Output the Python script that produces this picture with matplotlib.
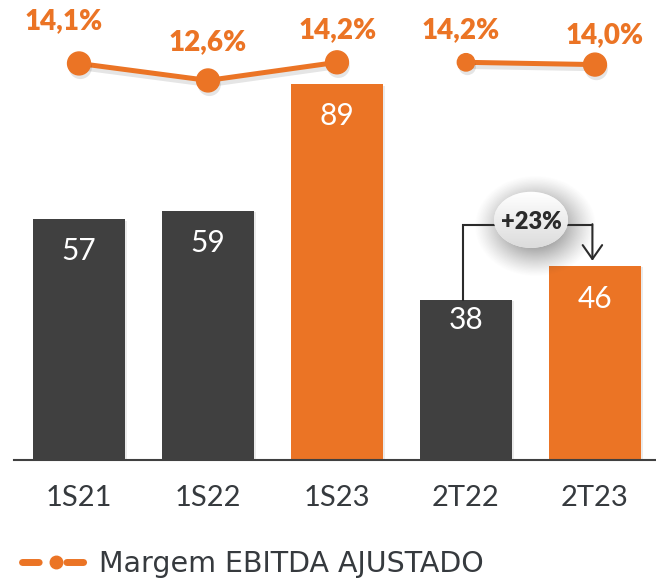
import matplotlib
matplotlib.use("Agg")
import matplotlib.pyplot as plt
import matplotlib.patheffects as pe
from matplotlib.patches import Ellipse
from matplotlib.lines import Line2D
import numpy as np

# Data
categories = ["1S21", "1S22", "1S23", "2T22", "2T23"]
ebitda = [57, 59, 89, 38, 46]
margin = [14.1, 12.6, 14.2, 14.2, 14.0]
margin_labels = ["14,1%", "12,6%", "14,2%", "14,2%", "14,0%"]
growth_label = "+23%"

DARK = "#404040"
ORANGE = "#EB7425"
TEXT = "#363a3e"
bar_colors = [DARK, DARK, ORANGE, DARK, ORANGE]

plt.rcParams["font.family"] = ["Lato", "DejaVu Sans"]

fig = plt.figure(figsize=(6.56, 5.78), dpi=100)
ax = fig.add_axes([14 / 656, 118 / 578, 642 / 656, 460 / 578])
x = np.arange(len(categories))

bars = ax.bar(x, ebitda, width=0.713, color=bar_colors, zorder=2)
for b in bars:
    b.set_path_effects([pe.SimplePatchShadow(offset=(1.5, -1), shadow_rgbFace="black", alpha=0.08),
                        pe.Normal()])

# value labels inside bars
label_drop = [-23, -23, -23, -14.5, -23.5]
for xi, v, d in zip(x, ebitda, label_drop):
    ax.annotate(str(v), (xi, v), xytext=(0, d), textcoords="offset points",
                ha="center", va="center", color="white", fontsize=21.5,
                fontweight="normal", zorder=4)

ax.set_xlim(-0.504, 4.473)
ax.set_ylim(0, 109)
ax.set_xticks(x)
ax.set_xticklabels(categories, fontsize=21, fontweight="normal", color=TEXT)
ax.tick_params(axis="x", length=0, pad=18)
ax.set_yticks([])
for s in ["top", "right", "left"]:
    ax.spines[s].set_visible(False)
ax.spines["bottom"].set_color(DARK)
ax.spines["bottom"].set_linewidth(1.5)

# margin line on a twin axis
ax2 = ax.twinx()
ax2.set_ylim(-20.9, 19.7)
ax2.axis("off")
shadow = [pe.SimpleLineShadow(offset=(1, -3), shadow_color="black", alpha=0.1), pe.Normal()]
for grp in ([0, 1, 2], [3, 4]):
    ax2.plot(x[grp], [margin[i] for i in grp], color=ORANGE, lw=3.6,
             solid_capstyle="round", zorder=3, path_effects=shadow, clip_on=False)
msizes = [16.5, 16.5, 16.5, 12.5, 16.5]
ax2.scatter(x, margin, s=[m ** 2 for m in msizes], color=ORANGE, zorder=4, clip_on=False,
            path_effects=[pe.SimplePatchShadow(offset=(1, -3), shadow_rgbFace="black", alpha=0.1),
                          pe.Normal()])
label_offsets = [(-10.8, 30.2), (0, 27.4), (0.7, 23), (-3.6, 23), (7.2, 21.2)]
for xi, v, t, off in zip(x, margin, margin_labels, label_offsets):
    ax2.annotate(t, (xi, v), xytext=off, textcoords="offset points", ha="center",
                 va="center", color=ORANGE, fontsize=20, fontweight="heavy",
                 annotation_clip=False)

# growth bracket between 2T22 and 2T23
top_y = 55.7
ax.plot([2.98, 2.98, 3.98], [ebitda[3], top_y, top_y], color="#2b2b2b", lw=1.5, zorder=3,
        solid_joinstyle="miter")
ax.annotate("", xy=(3.98, ebitda[4] + 1.2), xytext=(3.98, top_y + 0.18),
            arrowprops=dict(arrowstyle="->,head_length=1.0,head_width=0.7",
                            color="#2b2b2b", lw=1.5, shrinkA=0, shrinkB=0), zorder=3)

ex, ey, ew, eh = 3.504, 56.9, 0.574, 13.3
# soft shadow behind the bubble
gx = np.linspace(-1, 1, 200)
gy = np.linspace(-1, 1, 200)
GX, GY = np.meshgrid(gx, gy)
dist = np.sqrt(GX ** 2 + GY ** 2)
alpha = 0.85 * np.clip(1 - dist, 0, 1) ** 1.2
rgba = np.zeros((200, 200, 4))
rgba[..., :3] = 0.22
rgba[..., 3] = alpha
sw, sh = 0.95, 24
ax.imshow(rgba, extent=(ex + 0.03 - sw / 2, ex + 0.03 + sw / 2, ey - 1.5 - sh / 2, ey - 1.5 + sh / 2),
          aspect="auto", zorder=4, interpolation="bilinear")
ell = Ellipse((ex, ey), ew, eh, facecolor="#eeeeee", edgecolor="none", zorder=5)
ax.add_patch(ell)
grad = np.linspace(1.0, 0.86, 100)[:, None] * np.ones((100, 100))
im = ax.imshow(grad, cmap="gray", vmin=0, vmax=1,
               extent=(ex - ew / 2, ex + ew / 2, ey - eh / 2, ey + eh / 2),
               aspect="auto", zorder=5.5)
im.set_clip_path(ell)
ax.text(ex, ey - 0.6, growth_label, ha="center", va="center", fontsize=17,
        fontweight="heavy", color="#2b2b2b", zorder=6)
ax.set_xlim(-0.504, 4.473)
ax.set_ylim(0, 109)

# legend
h_line = Line2D([], [], color=ORANGE, lw=5, linestyle=(0, (2.4, 4.0)), dash_capstyle="round")
h_dot = Line2D([], [], color=ORANGE, marker="o", markersize=9, linestyle="none")
leg = ax.legend([(h_line, h_dot)], ["Margem EBITDA AJUSTADO"], loc="center left",
                bbox_to_anchor=(22 / 656, 1 - 564 / 578), bbox_transform=fig.transFigure,
                frameon=False, prop={"family": ["DejaVu Sans"], "size": 20.5},
                handlelength=2.4, handletextpad=0.3, borderpad=0, borderaxespad=0)
for t in leg.get_texts():
    t.set_color(TEXT)

fig.savefig("out.png", dpi=100)
